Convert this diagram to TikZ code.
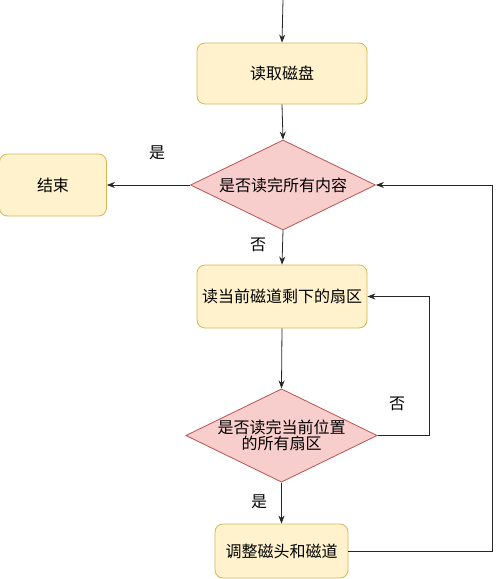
\documentclass[tikz,border=0pt]{standalone}
\usepackage{fontspec}
\setmainfont{Noto Sans CJK SC}
\usetikzlibrary{shapes.geometric,arrows.meta}
\definecolor{boxfill}{HTML}{FFF2CC}
\definecolor{boxdraw}{HTML}{D6B656}
\definecolor{dfill}{HTML}{F8CECC}
\definecolor{ddraw}{HTML}{B85450}
\begin{document}
\begin{tikzpicture}[x=1pt,y=-1pt,
  proc/.style={draw=boxdraw,fill=boxfill,rounded corners=8pt,line width=0.8pt,inner sep=0pt,font=\fontsize{16}{19}\selectfont},
  dec/.style={draw=ddraw,fill=dfill,line width=0.8pt,diamond,aspect=2.05,inner sep=0pt,font=\fontsize{16}{19}\selectfont,align=center},
  lbl/.style={font=\fontsize{16}{19}\selectfont},
  arr/.style={-{Stealth[length=8pt,width=6pt]},line width=0.8pt,black!85}]
\useasboundingbox (0,0) rectangle (500,579);
\coordinate (top) at (283,0);
\node[proc,minimum width=170pt,minimum height=61pt] (read) at (282,73.5) {读取磁盘};
\node[dec,minimum width=185pt,minimum height=90pt] (all) at (283,185) {是否读完所有内容};
\node[proc,minimum width=107pt,minimum height=62pt] (end) at (53,185) {结束};
\node[proc,minimum width=170pt,minimum height=63pt] (sect) at (282,296.5) {读当前磁道剩下的扇区};
\node[dec,minimum width=188pt,minimum height=89pt] (pos) at (281.5,435.5) {是否读完当前位置\\[-3pt]的所有扇区};
\node[proc,minimum width=133pt,minimum height=54pt] (adj) at (281.5,551) {调整磁头和磁道};
\node[lbl] (yes1) at (157,153) {是};
\node[lbl] (no1) at (258,245) {否};
\node[lbl] (no2) at (397,404) {否};
\node[lbl] (yes2) at (259,502) {是};
\coordinate (c1) at (429,435.5);
\coordinate (c2) at (429,296.5);
\coordinate (c3) at (492,551);
\coordinate (c4) at (492,185);
\draw[arr] (top) -- (read.north);
\draw[arr] (read.south) -- (all.north);
\draw[arr] (all.west) -- (end.east);
\draw[arr] (all.south) -- (sect.north);
\draw[arr] (sect.south) -- (pos.north);
\draw[arr] (pos.south) -- (adj.north);
\draw[arr] (pos.east) -- (c1) -- (c2) -- (sect.east);
\draw[arr] (adj.east) -- (c3) -- (c4) -- (all.east);
\end{tikzpicture}
\end{document}
